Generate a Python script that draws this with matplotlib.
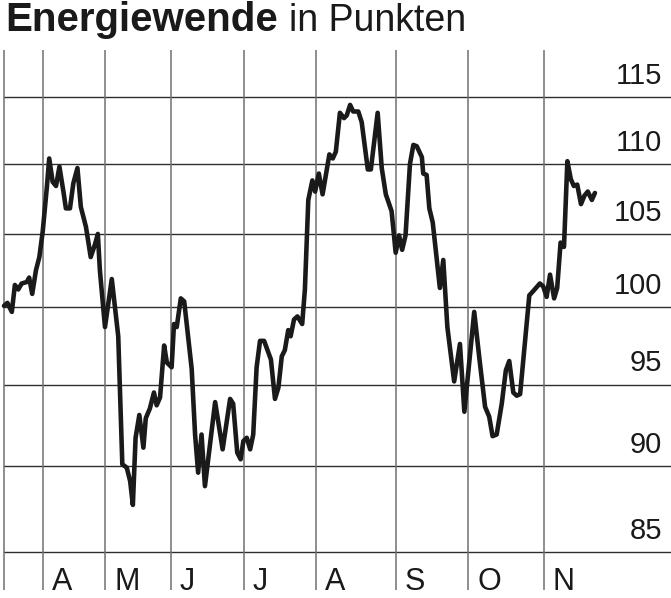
import matplotlib
matplotlib.use('Agg')
import matplotlib.pyplot as plt
from matplotlib import font_manager

# trading-day position and index value
day = [0.0, 1.0, 2.3, 3.2, 4.2, 5.2, 6.7, 7.4, 8.3, 9.4,
       10.4, 11.4, 12.6, 13.3, 14.3, 15.3, 16.3, 17.6, 18.2, 19.4,
       20.4, 21.6, 22.6, 24.1, 25.5, 26.8, 27.6, 28.2, 29.7, 31.7,
       33.6, 34.8, 36.1, 37.1, 37.9, 38.7, 39.8, 41.0, 41.7, 42.9,
       44.1, 44.9, 45.9, 47.1, 47.9, 49.3, 50.0, 50.8, 52.0, 53.0,
       55.2, 56.2, 57.1, 58.1, 59.1, 62.1, 64.3, 66.5, 67.4, 68.6,
       69.6, 70.4, 71.4, 72.4, 73.3, 74.3, 75.3, 76.5, 78.5, 79.7,
       80.7, 81.7, 82.6, 83.6, 84.3, 85.3, 86.3, 87.7, 88.5, 89.5,
       90.7, 91.5, 92.6, 93.7, 95.7, 96.7, 97.6, 98.8, 100.0, 100.8,
       101.8, 102.7, 104.2, 105.2, 107.0, 107.9, 109.9, 111.1, 112.3, 114.0,
       115.2, 116.2, 117.1, 118.1, 119.4, 120.4, 121.4, 122.9, 123.3, 124.3,
       125.1, 126.1, 128.2, 129.2, 130.4, 132.4, 134.1, 135.4, 138.3, 139.8,
       141.5, 142.7, 143.7, 144.9, 146.4, 147.6, 148.6, 149.8, 150.8, 151.8,
       154.5, 155.7, 157.6, 158.6, 159.6, 160.6, 161.8, 162.7, 163.7, 164.7,
       165.7, 166.7, 167.6, 168.6, 169.7, 170.7, 171.7, 172.9, 173.8]
value = [100.1, 100.3, 99.7, 101.5, 101.2, 101.6, 101.7, 102.0, 100.9, 102.5,
         103.4, 105.2, 108.3, 110.4, 108.7, 108.4, 109.8, 107.8, 106.8, 106.8,
         108.6, 109.7, 106.9, 105.5, 103.4, 104.3, 105.0, 102.5, 98.7, 101.9,
         98.1, 90.1, 89.9, 89.1, 87.7, 91.7, 93.1, 91.1, 92.9, 93.5,
         94.5, 93.7, 94.2, 97.5, 96.4, 96.1, 98.9, 98.7, 100.6, 100.4,
         96.0, 91.9, 89.6, 91.9, 88.8, 93.9, 91.0, 94.1, 93.8, 90.8,
         90.4, 91.5, 91.7, 91.0, 91.9, 96.1, 97.8, 97.8, 96.6, 94.1,
         94.8, 96.8, 97.2, 98.5, 98.1, 99.2, 99.4, 98.9, 101.2, 107.4,
         108.8, 108.0, 109.3, 107.8, 110.7, 110.4, 110.9, 113.8, 113.4, 113.6,
         114.4, 113.9, 113.9, 113.1, 109.6, 109.6, 113.8, 109.7, 107.8, 106.6,
         103.7, 104.9, 103.9, 104.9, 110.0, 111.4, 111.3, 110.5, 109.3, 109.2,
         106.8, 105.8, 101.3, 103.2, 98.7, 95.2, 97.6, 93.3, 99.7, 96.7,
         93.6, 93.0, 91.8, 91.9, 93.8, 95.9, 96.5, 94.5, 94.3, 94.4,
         100.8, 101.1, 101.6, 101.4, 100.7, 102.2, 100.6, 101.3, 104.4, 104.1,
         110.2, 108.9, 108.4, 108.5, 107.1, 107.7, 108.0, 107.4, 107.9]

month_start = [0, 11.5, 29.7, 49.1, 70.6, 91.8, 115.3, 136.5, 158.8]
month_labels = ['A', 'M', 'J', 'J', 'A', 'S', 'O', 'N']
levels = [85, 90, 95, 100, 105, 110, 115]

names = {f.name for f in font_manager.fontManager.ttflist}
base = 'Liberation Sans'
narrow = 'Liberation Sans Narrow' if 'Liberation Sans Narrow' in names else base
plt.rcParams['font.family'] = [base, 'DejaVu Sans']

fig = plt.figure(figsize=(6.71, 5.98), dpi=100)
ax = fig.add_axes([0, 1 - 590 / 598, 1, 540 / 598])
ax.set_yscale('log')
ax.set_ylim(82.88, 118.65)
ax.set_xlim(-4 / 3.4, 667 / 3.4)
ax.axis('off')

# grid
for v in levels:
    ax.axhline(v, xmin=4 / 671, xmax=1, color='#2e2e2e', lw=1.0, zorder=1)
for m in month_start:
    ax.axvline(m, color='#707070', lw=1.1, zorder=1)

ax.plot(day, value, color='#1a1a1a', lw=3.3, solid_joinstyle='round',
        solid_capstyle='round', zorder=3)

# month labels sit right of each month line
for m, lab in zip(month_start[1:], month_labels):
    ax.annotate(lab, xy=(m, 0), xycoords=('data', 'axes fraction'),
                xytext=(6.5, 0), textcoords='offset points',
                ha='left', va='baseline', fontsize=22, family=narrow,
                color='#1a1a1a')

# value labels above each level line, right aligned
for v in levels:
    ax.annotate(str(v), xy=(1, v), xycoords=('axes fraction', 'data'),
                xytext=(-6.5, 9.5), textcoords='offset points',
                ha='right', va='baseline', fontsize=21, color='#1a1a1a')

# title: bold part + regular part
t1 = fig.text(5 / 671, 1 - 31 / 598, 'Energiewende', fontsize=29,
              weight='bold', va='baseline', color='#1a1a1a')
r = fig.canvas.get_renderer()
bb = t1.get_window_extent(r)
fig.text((bb.x1 + 11) / 671, 1 - 31 / 598, 'in Punkten', fontsize=27,
         va='baseline', color='#1a1a1a')

fig.savefig('out.png', dpi=100)
